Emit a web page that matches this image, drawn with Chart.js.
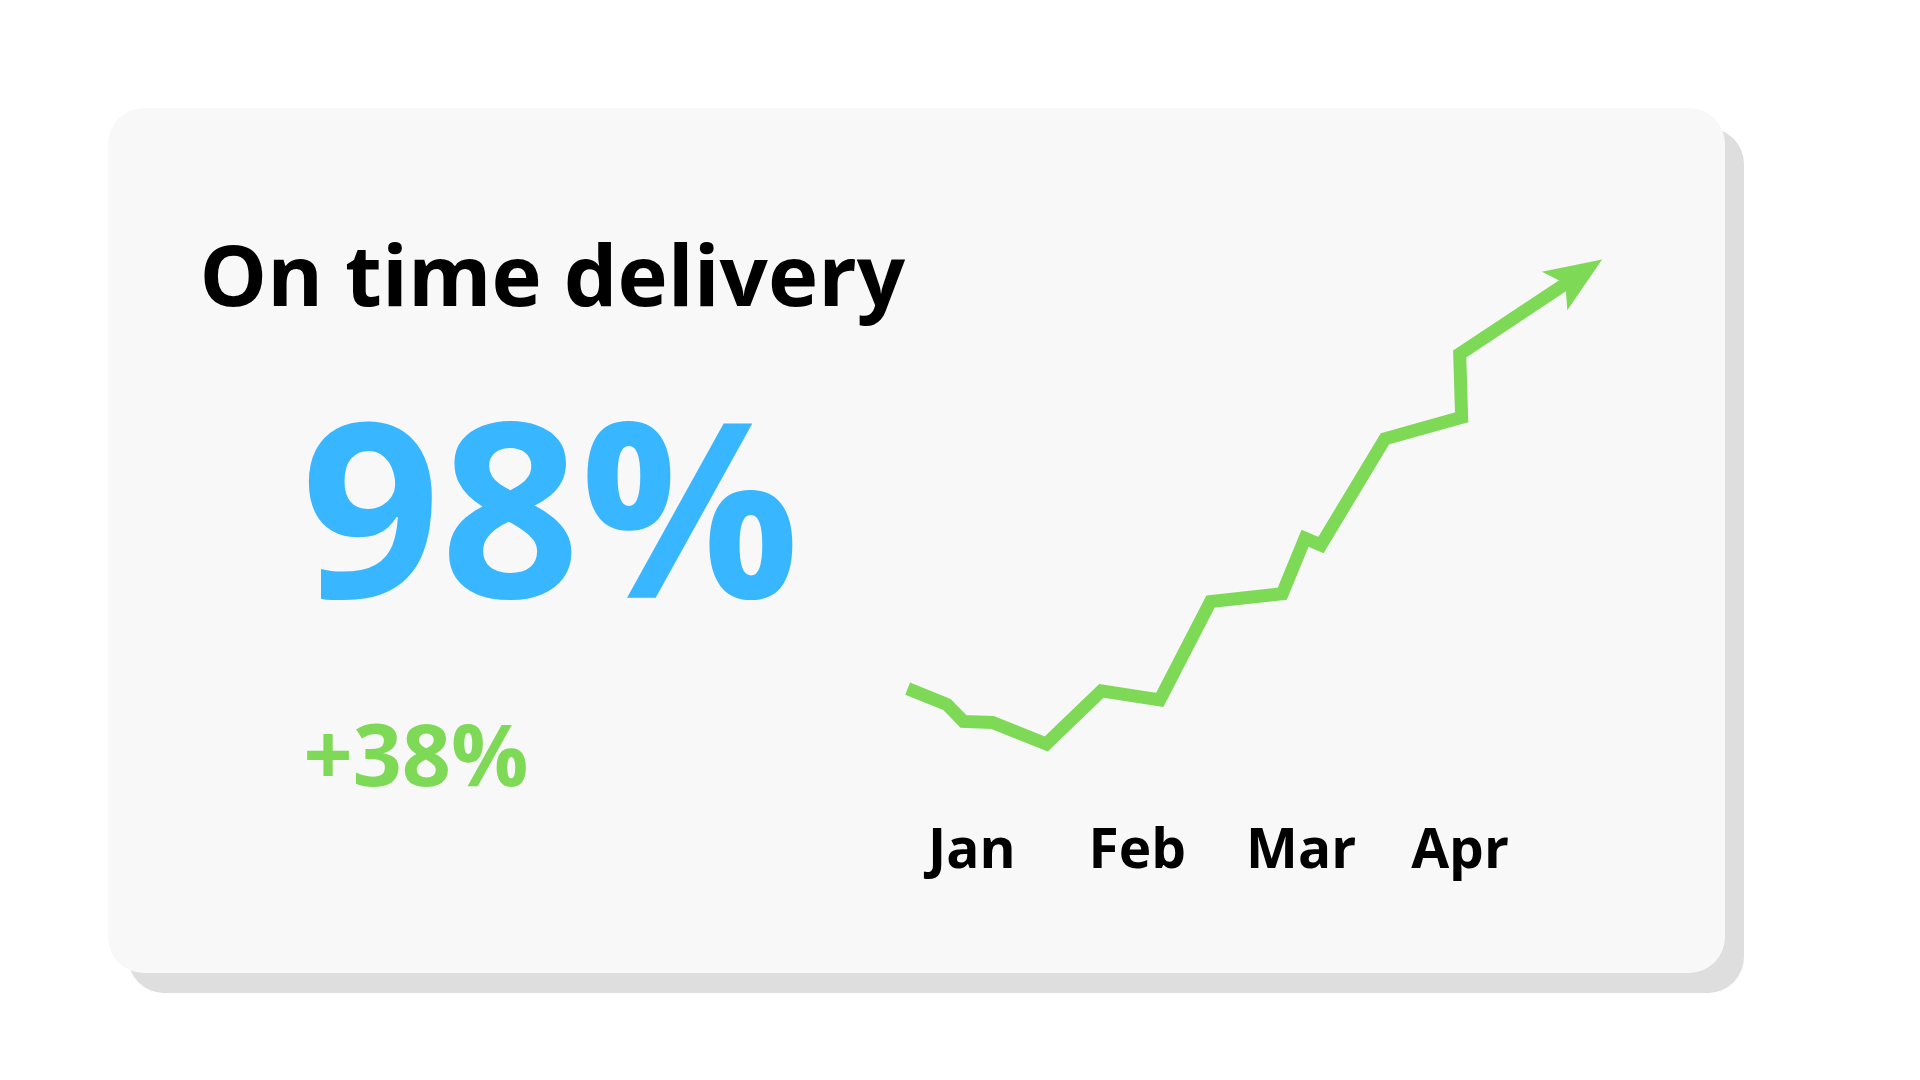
<!DOCTYPE html>
<html>
<head>
<meta charset="utf-8">
<title>On time delivery</title>
<script src="https://cdn.jsdelivr.net/npm/chart.js@4.4.1/dist/chart.umd.min.js"></script>
<style>
  html, body { margin: 0; padding: 0; background: #ffffff; }
  body { width: 1920px; height: 1080px; position: relative; overflow: hidden; font-family: "Open Sans", sans-serif; }
  .shadow { position: absolute; left: 128px; top: 128px; width: 1616px; height: 865px; border-radius: 36px; background: #dedede; }
  .card { position: absolute; left: 108px; top: 108px; width: 1617px; height: 865px; border-radius: 36px; background: #f8f8f8; }
  .txt { position: absolute; font-weight: 700; line-height: 1; white-space: nowrap; }
  #title { left: 199.5px; top: 230.5px; font-size: 85px; color: #000000; }
  #big { left: 301px; top: 381px; font-size: 244px; color: #38b6ff; }
  #delta { left: 303.5px; top: 710px; font-size: 86px; color: #7ed957; }
  #chart { position: absolute; left: 0; top: 0; }
</style>
</head>
<body>
<div class="shadow"></div>
<div class="card"></div>
<div class="txt" id="title">On time delivery</div>
<div class="txt" id="big">98%</div>
<div class="txt" id="delta">+38%</div>
<canvas id="chart" width="1920" height="1080"></canvas>

<script>
// tick labels and where they sit on the month axis
const months = ['Jan', 'Feb', 'Mar', 'Apr'];
const monthTicks = [0.02, 1.03, 2.03, 3];

// on time rate (%) over time, x in months from Jan
const xValues = [-0.372, -0.132, -0.032, 0.146, 0.474, 0.811, 1.167, 1.477, 1.915, 2.054, 2.151, 2.542, 3.010, 2.998, 3.664];
const rates = [60.0, 58.6, 57.1, 57.0, 55.1, 59.8, 59.0, 67.7, 68.4, 73.3, 72.7, 82.1, 84.0, 89.6, 96.0];

const green = '#7ed957';

// arrow head on the end of the line
const arrowHead = {
  id: 'arrowHead',
  afterDatasetsDraw(chart) {
    const pts = chart.getDatasetMeta(0).data;
    const a = pts[pts.length - 2], b = pts[pts.length - 1];
    const dx = b.x - a.x, dy = b.y - a.y;
    const len = Math.hypot(dx, dy);
    const ux = dx / len, uy = dy / len;
    const nx = -uy, ny = ux;
    const ctx = chart.ctx;
    ctx.save();
    ctx.fillStyle = green;
    ctx.beginPath();
    ctx.moveTo(b.x + ux * 40, b.y + uy * 40);
    ctx.lineTo(b.x - ux * 17 + nx * 23, b.y - uy * 17 + ny * 23);
    ctx.lineTo(b.x - ux * 4, b.y - uy * 4);
    ctx.lineTo(b.x - ux * 17 - nx * 23, b.y - uy * 17 - ny * 23);
    ctx.closePath();
    ctx.fill();
    ctx.restore();
  }
};

const points = xValues.map((x, i) => ({ x: x, y: rates[i] }));

const ctx = document.getElementById('chart').getContext('2d');
const myChart = new Chart(ctx, {
  type: 'line',
  data: {
    datasets: [{
      label: 'On time delivery',
      data: points,
      borderColor: green,
      borderWidth: 13,
      borderJoinStyle: 'miter',
      borderCapStyle: 'butt',
      tension: 0,
      fill: false,
      pointRadius: 0,
      pointHoverRadius: 0,
      clip: false
    }]
  },
  options: {
    responsive: false,
    animation: false,
    events: [],
    layout: {
      padding: { left: 860, right: 260, top: 236.4, bottom: 178.35 }
    },
    plugins: {
      legend: { display: false },
      tooltip: { enabled: false }
    },
    scales: {
      x: {
        type: 'linear',
        min: -0.663,
        max: 4.221,
        grid: { display: false, drawTicks: false },
        border: { display: false },
        afterBuildTicks: (scale) => {
          scale.ticks = monthTicks.map(v => ({ value: v }));
        },
        afterFit: (scale) => {
          scale.height = 100;
        },
        ticks: {
          autoSkip: false,
          maxRotation: 0,
          padding: 18,
          color: '#000000',
          font: { family: 'Open Sans', size: 55, weight: 'bold' },
          callback: (value, index) => months[index]
        }
      },
      y: {
        display: false,
        min: 50,
        max: 100
      }
    }
  },
  plugins: [arrowHead]
});
</script>
</body>
</html>
